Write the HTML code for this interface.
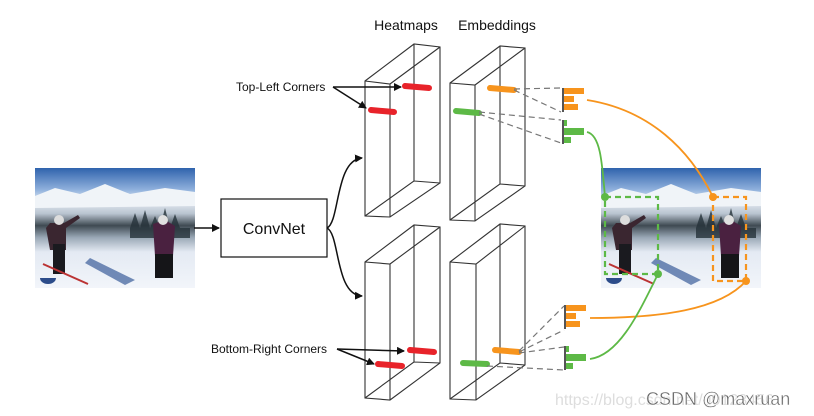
<!DOCTYPE html>
<html><head><style>
body{margin:0;background:#fff;}
svg{display:block;font-family:"Liberation Sans",sans-serif;}
</style></head><body>
<svg width="814" height="416" viewBox="0 0 814 416" xmlns="http://www.w3.org/2000/svg">
<defs>
<marker id="ah" markerWidth="8" markerHeight="8" refX="7" refY="4" orient="auto" markerUnits="userSpaceOnUse"><path d="M0,0 L8,4 L0,8 z" fill="#111"/></marker>
<marker id="ao" markerWidth="9" markerHeight="9" refX="4.5" refY="4.5" markerUnits="userSpaceOnUse"><circle cx="4.5" cy="4.5" r="4" fill="#f7941d"/></marker>
<marker id="ag" markerWidth="9" markerHeight="9" refX="4.5" refY="4.5" markerUnits="userSpaceOnUse"><circle cx="4.5" cy="4.5" r="4" fill="#5db946"/></marker>
<linearGradient id="ph" x1="0" y1="0" x2="0" y2="1">
<stop offset="0" stop-color="#2f63ad"/><stop offset="0.18" stop-color="#8fb0dc"/><stop offset="0.28" stop-color="#e6ecf4"/><stop offset="0.38" stop-color="#b9c4d0"/><stop offset="0.48" stop-color="#3f4a52"/><stop offset="0.58" stop-color="#9aa8b6"/><stop offset="0.7" stop-color="#e4eaf3"/><stop offset="1" stop-color="#f2f5fa"/></linearGradient>
<g id="photo">
<rect x="0" y="0" width="160" height="120" fill="url(#ph)"/>
<path d="M0,28 L20,20 L45,26 L70,16 L95,26 L130,20 L160,24 L160,38 L0,40z" fill="#f0f4f8"/>
<path d="M95,60 l5,-15 l5,15 l5,-18 l5,18 l5,-12 l5,12 l5,-20 l5,20 l5,-14 l5,14 l10,0 l0,10 l-60,0z" fill="#26323a" opacity="0.8"/>
<path d="M15,55 l14,0 l14,-8 l2,3 l-14,10 l0,22 l-16,0 l-4,-22z" fill="#3a2630"/>
<circle cx="24" cy="52" r="5" fill="#ddd"/>
<rect x="18" y="76" width="12" height="30" fill="#1a1a1f"/>
<path d="M118,56 l12,-4 l10,6 l-2,30 l-18,0 z" fill="#4a2140"/>
<circle cx="128" cy="52" r="5" fill="#e0e0e0"/>
<rect x="120" y="86" width="18" height="24" fill="#151518"/>
<path d="M55,90 l45,22 l-10,5 l-40,-22z" fill="#3a5c9a" opacity="0.7"/>
<path d="M8,96 l45,20" stroke="#b33" stroke-width="2"/>
<path d="M5,110 a8,6 0 1,0 16,0z" fill="#2c4c8a"/>
</g>
</defs>

<use href="#photo" x="35" y="168"/>
<use href="#photo" x="601" y="168"/>

<line x1="194" y1="228" x2="219" y2="228" stroke="#111" stroke-width="1.5" marker-end="url(#ah)"/>
<rect x="221" y="199" width="106" height="58" fill="#fff" stroke="#111" stroke-width="1.2"/>
<text x="274" y="234" font-size="16" text-anchor="middle" fill="#111">ConvNet</text>
<path d="M327,228 C340,222 335,160 362,158" fill="none" stroke="#111" stroke-width="1.5" marker-end="url(#ah)"/>
<path d="M327,228 C340,234 335,295 362,296" fill="none" stroke="#111" stroke-width="1.5" marker-end="url(#ah)"/>

<text x="406" y="30" font-size="14" text-anchor="middle" fill="#111">Heatmaps</text>
<text x="497" y="30" font-size="14" text-anchor="middle" fill="#111">Embeddings</text>

<g fill="none" stroke="#333" stroke-width="1.1">
<path d="M365,81 L414,44 L440,47 L440,183 L390,217 L365,216 Z M365,81 L390,84 L440,47 M390,84 L390,217 M414,44 L414,181 L365,216 M414,181 L440,183"/>
<path d="M450,83 L500,46 L525,48 L525,186 L475,221 L450,220 Z M450,83 L475,85 L525,48 M475,85 L475,221 M500,46 L500,184 L450,220 M500,184 L525,186"/>
<path d="M365,262 L414,225 L440,227 L440,363 L390,400 L365,398 Z M365,262 L390,264 L440,227 M390,264 L390,400 M414,225 L414,362 L365,398 M414,362 L440,363"/>
<path d="M450,262 L500,224 L525,226 L525,365 L476,400 L450,399 Z M450,262 L476,264 L525,226 M476,264 L476,400 M500,224 L500,363 L450,399 M500,363 L525,365"/>
</g>

<g stroke-linecap="round" stroke-width="6">
<line x1="405" y1="86" x2="429" y2="88" stroke="#e8232a"/>
<line x1="371" y1="110" x2="394" y2="112" stroke="#e8232a"/>
<line x1="490" y1="88" x2="514" y2="90" stroke="#f7941d"/>
<line x1="456" y1="111" x2="479" y2="113" stroke="#5db946"/>
<line x1="410" y1="350" x2="434" y2="352" stroke="#e8232a"/>
<line x1="378" y1="364" x2="402" y2="366" stroke="#e8232a"/>
<line x1="495" y1="350" x2="519" y2="352" stroke="#f7941d"/>
<line x1="463" y1="363" x2="487" y2="364" stroke="#5db946"/>
</g>

<g stroke="#777" stroke-width="1.2" stroke-dasharray="6,4" fill="none">
<line x1="514" y1="89" x2="561" y2="88"/>
<line x1="514" y1="90" x2="561" y2="112"/>
<line x1="479" y1="112" x2="561" y2="120"/>
<line x1="479" y1="114" x2="561" y2="143"/>
<line x1="519" y1="351" x2="564" y2="306"/>
<line x1="519" y1="352" x2="564" y2="330"/>
<line x1="519" y1="353" x2="564" y2="347"/>
<line x1="487" y1="366" x2="564" y2="370"/>
</g>

<g>
<rect x="562" y="88" width="2" height="24" fill="#555"/>
<rect x="564" y="88" width="20" height="6" fill="#f7941d"/>
<rect x="564" y="96" width="10" height="6" fill="#f7941d"/>
<rect x="564" y="104" width="14" height="6" fill="#f7941d"/>
<rect x="562" y="120" width="2" height="24" fill="#555"/>
<rect x="564" y="120" width="3" height="6" fill="#5db946"/>
<rect x="564" y="128" width="20" height="7" fill="#5db946"/>
<rect x="564" y="137" width="7" height="6" fill="#5db946"/>
<rect x="564" y="305" width="2" height="24" fill="#555"/>
<rect x="566" y="305" width="20" height="6" fill="#f7941d"/>
<rect x="566" y="313" width="10" height="6" fill="#f7941d"/>
<rect x="566" y="321" width="14" height="6" fill="#f7941d"/>
<rect x="564" y="346" width="2" height="24" fill="#555"/>
<rect x="566" y="346" width="3" height="6" fill="#5db946"/>
<rect x="566" y="354" width="20" height="7" fill="#5db946"/>
<rect x="566" y="363" width="7" height="6" fill="#5db946"/>
</g>

<g fill="none" stroke-width="1.8">
<path d="M587,100 C650,110 690,150 713,197" stroke="#f7941d" marker-end="url(#ao)"/>
<path d="M587,132 C600,135 602,160 605,197" stroke="#5db946" marker-end="url(#ag)"/>
<path d="M590,318 C660,318 720,310 746,281" stroke="#f7941d" marker-end="url(#ao)"/>
<path d="M590,359 C620,355 640,310 658,274" stroke="#5db946" marker-end="url(#ag)"/>
</g>
<rect x="605" y="197" width="53" height="77" fill="none" stroke="#5db946" stroke-width="2.2" stroke-dasharray="6,4"/>
<rect x="713" y="197" width="33" height="84" fill="none" stroke="#f7941d" stroke-width="2.2" stroke-dasharray="6,4"/>

<text x="236" y="91" font-size="12" fill="#111">Top-Left Corners</text>
<path d="M333,87 L401,87" stroke="#111" stroke-width="1.5" fill="none" marker-end="url(#ah)"/>
<path d="M333,87 L366,108" stroke="#111" stroke-width="1.5" fill="none" marker-end="url(#ah)"/>
<text x="211" y="353" font-size="12" fill="#111">Bottom-Right Corners</text>
<path d="M337,349 L404,351" stroke="#111" stroke-width="1.5" fill="none" marker-end="url(#ah)"/>
<path d="M337,349 L374,364" stroke="#111" stroke-width="1.5" fill="none" marker-end="url(#ah)"/>

<text x="555" y="405" font-size="16" fill="#ddd">https://blog.csdn.net/u0123456</text>
<text x="646" y="405" font-size="18" fill="#666" stroke="#fff" stroke-width="0.4">CSDN @maxruan</text>
</svg>
</body></html>
